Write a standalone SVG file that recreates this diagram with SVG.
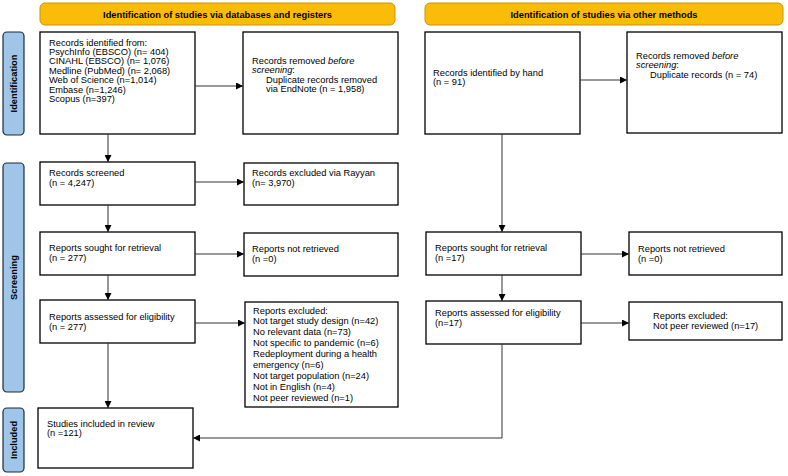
<svg xmlns="http://www.w3.org/2000/svg" width="788" height="476" viewBox="0 0 788 476">
<defs>
<marker id="ah" viewBox="0 0 8 8" refX="8" refY="4" markerWidth="7" markerHeight="7" markerUnits="userSpaceOnUse" orient="auto">
<path d="M0,0 L8,4 L0,8 Z" fill="#000"/>
</marker>
</defs>
<style>
.hdr{fill:#fbbc09;stroke:#c99500;stroke-width:1}
.hdrt{font-family:"Liberation Sans",Arial,sans-serif;font-size:9.3px;font-weight:bold;fill:#000;text-anchor:middle}
.side{fill:#9fc5e8;stroke:#1f2a36;stroke-width:1.2}
.sidet{font-family:"Liberation Sans",Arial,sans-serif;font-size:9.3px;font-weight:bold;fill:#000;text-anchor:middle}
.box{fill:#fff;stroke:#000;stroke-width:1.3}
.t{font-family:"Liberation Sans",Arial,sans-serif;font-size:9.3px;fill:#000}
.c{fill:none;stroke:#333;stroke-width:1}
</style>
<rect width="788" height="476" fill="#fff"/>

<g id="header-db"><rect class="hdr" x="40" y="3" width="355" height="22" rx="5"/><text class="hdrt" x="217.5" y="17.5">Identification of studies via databases and registers</text></g>
<g id="header-other"><rect class="hdr" x="425" y="3" width="358" height="22" rx="5"/><text class="hdrt" x="604" y="17.5">Identification of studies via other methods</text></g>

<g id="side-identification"><rect class="side" x="3" y="32" width="21" height="103" rx="4"/><text class="sidet" transform="translate(17,83.5) rotate(-90)">Identification</text></g>
<g id="side-screening"><rect class="side" x="3" y="163" width="21" height="229" rx="4"/><text class="sidet" transform="translate(17,277.5) rotate(-90)">Screening</text></g>
<g id="side-included"><rect class="side" x="3" y="408" width="21" height="64" rx="4"/><text class="sidet" transform="translate(17,440) rotate(-90)">Included</text></g>

<g id="records-identified"><rect class="box" x="40" y="32" width="155" height="102"/>
<text class="t" x="49" y="45.5">Records identified from:<tspan x="49" dy="9.4">PsychInfo (EBSCO) (n= 404)</tspan><tspan x="49" dy="9.4">CINAHL (EBSCO) (n= 1,076)</tspan><tspan x="49" dy="9.4">Medline (PubMed) (n= 2,068)</tspan><tspan x="49" dy="9.4">Web of Science (n=1,014)</tspan><tspan x="49" dy="9.4">Embase (n=1,246)</tspan><tspan x="49" dy="9.4">Scopus (n=397)</tspan></text></g>

<g id="records-removed"><rect class="box" x="243" y="32" width="155" height="102"/>
<text class="t" x="252" y="64">Records removed <tspan font-style="italic">before</tspan><tspan x="252" dy="9.4" font-style="italic">screening</tspan>:<tspan x="266" dy="9.4">Duplicate records removed</tspan><tspan x="266" dy="9.4">via EndNote (n = 1,958)</tspan></text></g>

<g id="records-hand"><rect class="box" x="425" y="32" width="155" height="102"/>
<text class="t" x="433" y="76">Records identified by hand<tspan x="433" dy="9.4">(n = 91)</tspan></text></g>

<g id="records-removed-other"><rect class="box" x="627" y="32" width="155" height="101"/>
<text class="t" x="636" y="59">Records removed <tspan font-style="italic">before</tspan><tspan x="636" dy="9.4" font-style="italic">screening</tspan>:<tspan x="650" dy="9.4">Duplicate records (n = 74)</tspan></text></g>

<g id="records-screened"><rect class="box" x="40" y="162" width="155" height="43"/>
<text class="t" x="49" y="176">Records screened<tspan x="49" dy="9.6">(n = 4,247)</tspan></text></g>

<g id="records-excluded"><rect class="box" x="244" y="163" width="154" height="42"/>
<text class="t" x="252" y="176">Records excluded via Rayyan<tspan x="252" dy="9.6">(n= 3,970)</tspan></text></g>

<g id="reports-sought"><rect class="box" x="40" y="232" width="155" height="43"/>
<text class="t" x="49" y="251">Reports sought for retrieval<tspan x="49" dy="9.6">(n = 277)</tspan></text></g>

<g id="reports-not-retrieved"><rect class="box" x="244" y="233" width="154" height="43"/>
<text class="t" x="252" y="252">Reports not retrieved<tspan x="252" dy="9.6">(n =0)</tspan></text></g>

<g id="reports-sought-other"><rect class="box" x="426" y="232" width="155" height="43"/>
<text class="t" x="435" y="251">Reports sought for retrieval<tspan x="435" dy="9.6">(n =17)</tspan></text></g>

<g id="reports-not-retrieved-other"><rect class="box" x="629" y="232" width="153" height="43"/>
<text class="t" x="638" y="252">Reports not retrieved<tspan x="638" dy="9.6">(n =0)</tspan></text></g>

<g id="reports-assessed"><rect class="box" x="40" y="300" width="155" height="43"/>
<text class="t" x="49" y="320">Reports assessed for eligibility<tspan x="49" dy="9.6">(n = 277)</tspan></text></g>

<g id="reports-excluded"><rect class="box" x="245" y="302" width="153" height="105"/>
<text class="t" x="253" y="313.5">Reports excluded:<tspan x="253" dy="10.9">Not target study design (n=42)</tspan><tspan x="253" dy="10.9">No relevant data (n=73)</tspan><tspan x="253" dy="10.9">Not specific to pandemic (n=6)</tspan><tspan x="253" dy="10.9">Redeployment during a health</tspan><tspan x="253" dy="10.9">emergency (n=6)</tspan><tspan x="253" dy="10.9">Not target population (n=24)</tspan><tspan x="253" dy="10.9">Not in English (n=4)</tspan><tspan x="253" dy="10.9">Not peer reviewed (n=1)</tspan></text></g>

<g id="reports-assessed-other"><rect class="box" x="426" y="301" width="155" height="43"/>
<text class="t" x="435" y="316">Reports assessed for eligibility<tspan x="435" dy="9.6">(n=17)</tspan></text></g>

<g id="reports-excluded-other"><rect class="box" x="629" y="302" width="153" height="38"/>
<text class="t" x="653" y="319">Reports excluded:<tspan x="653" dy="9.6">Not peer reviewed (n=17)</tspan></text></g>

<g id="studies-included"><rect class="box" x="38" y="408" width="155" height="60"/>
<text class="t" x="47" y="426.5">Studies included in review<tspan x="47" dy="9.6">(n =121)</tspan></text></g>

<g id="connectors">
<line class="c" x1="195" y1="86" x2="243" y2="86" marker-end="url(#ah)"/>
<line class="c" x1="580" y1="80" x2="627" y2="80" marker-end="url(#ah)"/>
<line class="c" x1="195" y1="182" x2="244" y2="182" marker-end="url(#ah)"/>
<line class="c" x1="195" y1="254" x2="244" y2="254" marker-end="url(#ah)"/>
<line class="c" x1="581" y1="254" x2="629" y2="254" marker-end="url(#ah)"/>
<line class="c" x1="195" y1="323" x2="245" y2="323" marker-end="url(#ah)"/>
<line class="c" x1="581" y1="323" x2="629" y2="323" marker-end="url(#ah)"/>
<line class="c" x1="108" y1="134" x2="108" y2="162" marker-end="url(#ah)"/>
<line class="c" x1="108" y1="205" x2="108" y2="232" marker-end="url(#ah)"/>
<line class="c" x1="108" y1="275" x2="108" y2="300" marker-end="url(#ah)"/>
<line class="c" x1="108" y1="343" x2="108" y2="408" marker-end="url(#ah)"/>
<line class="c" x1="502" y1="134" x2="502" y2="232" marker-end="url(#ah)"/>
<line class="c" x1="502" y1="275" x2="502" y2="301" marker-end="url(#ah)"/>
<polyline class="c" points="502,344 502,438 193,438" marker-end="url(#ah)"/>
</g>
</svg>
